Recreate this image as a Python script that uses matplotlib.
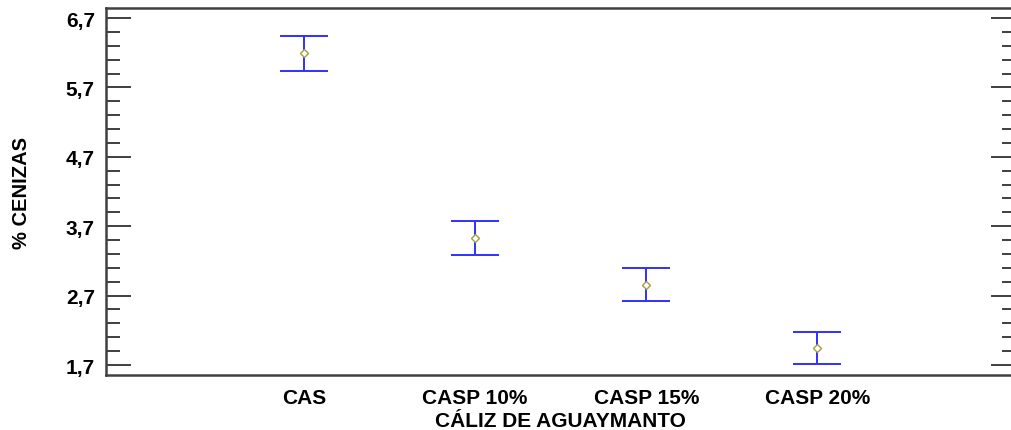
import numpy as np
import matplotlib.pyplot as plt
from matplotlib.ticker import FixedLocator

# mean and interval half-width of ash content for each calyx treatment
categories = ['CAS', 'CASP 10%', 'CASP 15%', 'CASP 20%']
means = [6.19, 3.53, 2.86, 1.95]
half_width = [0.25, 0.24, 0.24, 0.23]
yticks = [1.7, 2.7, 3.7, 4.7, 5.7, 6.7]

plt.rcParams['font.family'] = ['Liberation Sans', 'DejaVu Sans']
plt.rcParams['font.weight'] = 'bold'

fig = plt.figure(figsize=(10.11, 4.31), dpi=100)
ax = fig.add_axes([0.1048, 0.1276, 0.900, 0.8515])

x = list(range(1, len(categories) + 1))
ax.errorbar(x, means, yerr=half_width, fmt='none', ecolor='#3030ff',
            elinewidth=1.4, capsize=17, capthick=1.4)
ax.plot(x, means, linestyle='none', marker='D', markersize=4.5,
        markerfacecolor='white', markeredgecolor='#a0a040', markeredgewidth=1)

ax.set_xlim(-0.158, 5.16)
ax.set_ylim(1.556, 6.844)
ax.set_xticks(x)
ax.set_xticklabels(categories, fontsize=15, fontweight='bold')
ax.set_yticks(yticks)
ax.set_yticklabels([f'{v:.1f}'.replace('.', ',') for v in yticks],
                   fontsize=15, fontweight='bold')
minor = [v for v in np.arange(1.7, 6.71, 0.2) if min(abs(v - t) for t in yticks) > 0.01]
ax.yaxis.set_minor_locator(FixedLocator(minor))

ax.tick_params(axis='x', length=0, pad=9)
ax.tick_params(axis='y', which='major', direction='in', length=18, width=1.3,
               color='#303030', left=True, right=True, pad=8)
ax.tick_params(axis='y', which='minor', direction='in', length=10, width=1.3,
               color='#303030', left=True, right=True)

for s in ax.spines.values():
    s.set_color('#404040')
    s.set_linewidth(1.8)

ax.set_xlabel('CÁLIZ DE AGUAYMANTO', fontsize=15, fontweight='bold', labelpad=3)
ax.set_ylabel('% CENIZAS', fontsize=14.5, fontweight='bold', labelpad=25)

fig.savefig('out.png', dpi=100)
